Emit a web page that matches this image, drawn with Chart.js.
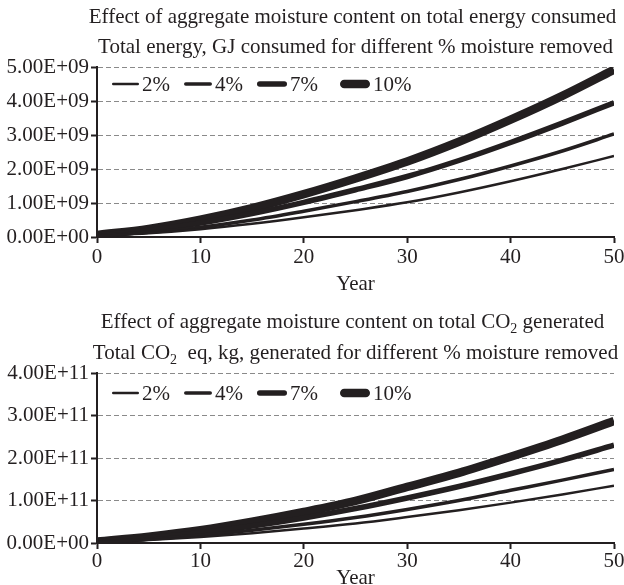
<!DOCTYPE html>
<html><head><meta charset="utf-8">
<script src="https://cdn.jsdelivr.net/npm/chart.js@4.4.0/dist/chart.umd.min.js"></script>
<style>
html,body{margin:0;padding:0;background:#fff;overflow:hidden;width:624px;height:585px;}
#w1{position:absolute;left:0;top:0;width:624px;height:295px;}
#w2{position:absolute;left:0;top:295px;width:624px;height:300px;}
</style></head><body>
<div id="w1"><canvas id="c1"></canvas></div>
<div id="w2"><canvas id="c2"></canvas></div>
<script>
const years = [0,5,10,15,20,25,30,35,40,45,50];
const seriesLabels = ['2%','4%','7%','10%'];
// Total energy, GJ
const energy2  = [3e7, 1.1e8, 2.3e8, 3.9e8, 5.8e8, 7.9e8, 1.02e9, 1.31e9, 1.64e9, 2.0e9, 2.38e9];
const energy4  = [4e7, 1.4e8, 2.9e8, 5.0e8, 7.6e8, 1.04e9, 1.34e9, 1.69e9, 2.09e9, 2.53e9, 3.03e9];
const energy7  = [5e7, 1.9e8, 4.1e8, 6.9e8, 1.02e9, 1.39e9, 1.78e9, 2.25e9, 2.78e9, 3.35e9, 3.95e9];
const energy10 = [6e7, 2.4e8, 5.1e8, 8.5e8, 1.26e9, 1.72e9, 2.22e9, 2.8e9, 3.45e9, 4.15e9, 4.92e9];
// Total CO2 eq, kg
const co2_2  = [2e9, 7e9, 1.4e10, 2.3e10, 3.4e10, 4.6e10, 6.1e10, 7.7e10, 9.5e10, 1.14e11, 1.35e11];
const co2_4  = [2.5e9, 9e9, 1.8e10, 3.0e10, 4.4e10, 6.0e10, 7.9e10, 1.0e11, 1.24e11, 1.48e11, 1.73e11];
const co2_7  = [3e9, 1.2e10, 2.4e10, 4.0e10, 5.9e10, 8.1e10, 1.06e11, 1.33e11, 1.63e11, 1.95e11, 2.3e11];
const co2_10 = [3.5e9, 1.5e10, 3.0e10, 5.0e10, 7.3e10, 9.9e10, 1.32e11, 1.65e11, 2.03e11, 2.43e11, 2.87e11];
const energyMax = 5e9, energyStep = 1e9;
const co2Max = 4e11, co2Step = 1e11;
const xTitle = 'Year';
const titles1 = [[['Effect of aggregate moisture content on total energy consumed',0]],
                 [['Total energy, GJ consumed for different % moisture removed',0]]];
const titles2 = [[['Effect of aggregate moisture content on total CO',0],['2',1],[' generated',0]],
                 [['Total CO',0],['2',1],['  eq, kg, generated for different % moisture removed',0]]];

const INK = '#231f20';
const FAM = '"Liberation Serif", "Times New Roman", serif';
const FS = 21, SUB = 14;
const FONT = {family: FAM, size: FS};
const widths = [2.5, 3.5, 5.5, 8.5];

function fmt(v){
  if (Math.abs(v) < 1) return '0.00E+00';
  const parts = Number(v).toExponential(2).split('e');
  const n = parseInt(parts[1],10);
  return parts[0] + 'E' + (n<0?'-':'+') + String(Math.abs(n)).padStart(2,'0');
}

const overlay = {
  id:'overlay',
  afterDraw(chart, args, o){
    const ctx = chart.ctx, ca = chart.chartArea;
    ctx.save();
    ctx.fillStyle = INK; ctx.textBaseline = 'middle';
    const cx = (ca.left + ca.right)/2;
    o.titles.forEach((segs, i) => {
      let total = 0;
      segs.forEach(s => { ctx.font = (s[1]?SUB:FS) + 'px ' + FAM; total += ctx.measureText(s[0]).width; });
      let x = cx + o.titleDx[i] - total/2;
      ctx.textAlign = 'left';
      segs.forEach(s => {
        ctx.font = (s[1]?SUB:FS) + 'px ' + FAM;
        ctx.fillText(s[0], x, o.titleY[i] + (s[1]?7:0));
        x += ctx.measureText(s[0]).width;
      });
    });
    ctx.font = FS + 'px ' + FAM;
    chart.data.datasets.forEach((ds, i) => {
      const x0 = ca.left + o.legendX[i], y = ca.top + o.legendDy;
      const w = ds.borderWidth, len = o.legendLen[i];
      ctx.lineWidth = w; ctx.lineCap = 'round'; ctx.strokeStyle = INK;
      ctx.beginPath(); ctx.moveTo(x0 + w/2, y); ctx.lineTo(x0 + len - w/2, y); ctx.stroke();
      ctx.textAlign = 'left';
      ctx.fillText(ds.label, x0 + len + 3, y + 1);
    });
    ctx.restore();
  }
};

function makeChart(id, series, yMax, yStep, o){
  return new Chart(document.getElementById(id), {
    type:'line',
    data:{datasets: seriesLabels.map((l,i)=>({
      label:l, data: years.map((x,j)=>({x:x, y:series[i][j]})),
      borderColor:INK, borderWidth:widths[i], pointRadius:0,
      cubicInterpolationMode:'monotone', fill:false
    }))},
    options:{
      responsive:true, maintainAspectRatio:false, animation:false,
      layout:{padding:{top:o.top, left:0, right:10, bottom:0}},
      plugins:{legend:{display:false}, title:{display:false}, tooltip:{enabled:false},
        overlay:{titles:o.titles, titleY:o.titleY, titleDx:[-3,0], legendX:[15,87,160,243], legendLen:[27,28,30,30], legendDy:o.legendDy}},
      scales:{
        x:{type:'linear', min:0, max:50,
          ticks:{stepSize:10, color:INK, font:FONT, padding:o.xTickPad, maxRotation:0},
          grid:{drawOnChartArea:false, drawTicks:true, tickLength:6, tickColor:INK, tickWidth:2},
          border:{color:INK, width:2},
          title:{display:true, text:xTitle, color:INK, font:FONT, padding:{top:0, bottom:o.yearPad}},
          afterFit(s){ s.height = o.xh; s.paddingRight = 0; s.paddingLeft = 0; }},
        y:{min:0, max:yMax,
          ticks:{stepSize:yStep, color:INK, font:FONT, padding:2, callback:fmt},
          grid:{color:'#8a8a8a', lineWidth:1, tickColor:INK, tickWidth:2, tickLength:6, tickBorderDash:[]},
          border:{color:INK, width:2, dash:[5,3]},
          afterFit(s){ s.width = 97; s.paddingTop = 0; s.paddingBottom = 0; }}
      }
    },
    plugins:[overlay]
  });
}

makeChart('c1', [energy2, energy4, energy7, energy10], energyMax, energyStep,
  {top:67, xh:58, xTickPad:2, yearPad:-2, titles:titles1, titleY:[17,47], legendDy:17});
makeChart('c2', [co2_2, co2_4, co2_7, co2_10], co2Max, co2Step,
  {top:78, xh:52, xTickPad:0, yearPad:4, titles:titles2, titleY:[27,58], legendDy:20});
</script>
</body></html>
